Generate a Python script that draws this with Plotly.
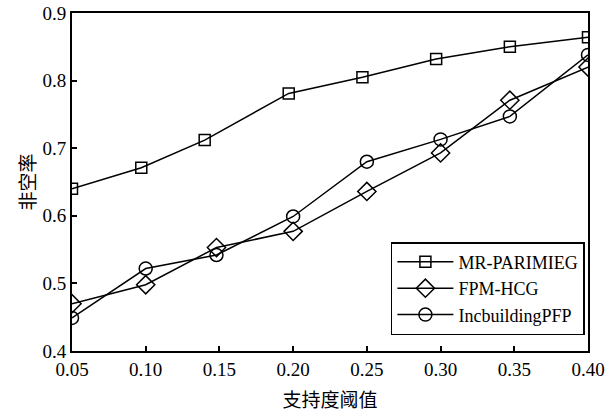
import plotly.graph_objects as go

# Data
mr_x = [0.05, 0.097, 0.14, 0.197, 0.247, 0.297, 0.347, 0.40]
mr_y = [0.640, 0.671, 0.712, 0.781, 0.805, 0.832, 0.850, 0.864]

fpm_x = [0.05, 0.10, 0.148, 0.20, 0.25, 0.30, 0.347, 0.40]
fpm_y = [0.470, 0.498, 0.553, 0.577, 0.636, 0.693, 0.771, 0.820]

inc_x = [0.05, 0.10, 0.148, 0.20, 0.25, 0.30, 0.347, 0.40]
inc_y = [0.449, 0.522, 0.542, 0.599, 0.680, 0.713, 0.747, 0.838]

x_ticks = [0.05, 0.10, 0.15, 0.20, 0.25, 0.30, 0.35, 0.40]
y_ticks = [0.4, 0.5, 0.6, 0.7, 0.8, 0.9]

series_names = ["MR-PARIMIEG", "FPM-HCG", "IncbuildingPFP"]
x_title = "支持度阈值"
y_title = "非空率"

SERIF = "Liberation Serif"
CJK = "Noto Sans CJK SC"

fig = go.Figure()
fig.add_trace(go.Scatter(
    x=mr_x, y=mr_y, name=series_names[0], mode="lines+markers",
    line=dict(color="black", width=1.5),
    marker=dict(symbol="square-open", size=11, color="black", line=dict(width=1.5)),
))
fig.add_trace(go.Scatter(
    x=fpm_x, y=fpm_y, name=series_names[1], mode="lines+markers",
    line=dict(color="black", width=1.5),
    marker=dict(symbol="diamond-open", size=14, color="black", line=dict(width=1.5)),
))
fig.add_trace(go.Scatter(
    x=inc_x, y=inc_y, name=series_names[2], mode="lines+markers",
    line=dict(color="black", width=1.5),
    marker=dict(symbol="circle-open", size=13, color="black", line=dict(width=1.5)),
))

fig.update_layout(
    width=612, height=413,
    margin=dict(l=72, r=24, t=13, b=62),
    paper_bgcolor="white", plot_bgcolor="white",
    font=dict(family=SERIF, size=19, color="black"),
    showlegend=True,
    legend=dict(
        x=0.994, y=0.047, xanchor="right", yanchor="bottom",
        bgcolor="white", bordercolor="black", borderwidth=1.5,
        font=dict(family=SERIF, size=18, color="black"),
        itemwidth=56, tracegroupgap=0,
    ),
)
fig.update_xaxes(
    range=[0.05, 0.40], tickvals=x_ticks, tickformat=".2f",
    ticks="inside", ticklen=5, tickwidth=1.5, tickcolor="black",
    showline=True, linecolor="black", linewidth=1.8, mirror=True,
    showgrid=False, zeroline=False, automargin=False,
    tickfont=dict(family=SERIF, size=19, color="black"),
    title=dict(text=x_title, font=dict(family=CJK, size=19, color="black"), standoff=15),
)
fig.update_yaxes(
    range=[0.4, 0.9], tickvals=y_ticks, tickformat=".1f",
    ticks="inside", ticklen=5, tickwidth=1.5, tickcolor="black",
    showline=True, linecolor="black", linewidth=1.8, mirror=True,
    showgrid=False, zeroline=False, automargin=False,
    tickfont=dict(family=SERIF, size=19, color="black"),
    title=dict(text=y_title, font=dict(family=CJK, size=19, color="black"), standoff=2),
)

fig.write_html(
    "out.html",
    config={"displayModeBar": False},
    post_script="document.body.style.margin='0px';",
)
